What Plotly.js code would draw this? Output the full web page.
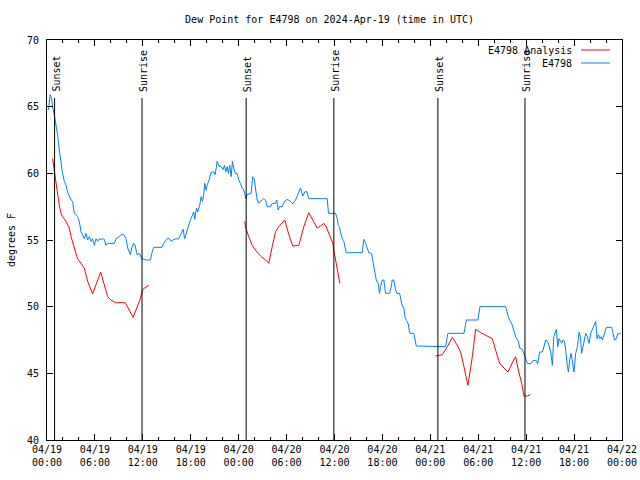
<!DOCTYPE html>
<html>
<head>
<meta charset="utf-8">
<script src="https://cdn.plot.ly/plotly-3.0.1.min.js"></script>
<style>html,body{margin:0;padding:0;background:#fff;}#chart{width:640px;height:480px;}</style>
</head>
<body>
<div id="chart"></div>
<script>
// Times are hours after 2024-04-19 00:00 UTC
const obsHours = [0.16,0.41,0.58,0.70,0.95,1.10,1.33,1.54,1.75,1.95,2.17,2.38,2.58,2.79,3.01,3.21,3.42,3.63,3.83,4.05,4.26,4.46,4.67,4.89,5.09,5.30,5.51,5.71,5.93,6.14,6.34,6.55,6.77,6.97,7.18,7.39,7.59,8.43,8.65,9.06,9.27,9.60,9.90,10.10,10.44,10.60,10.85,11.03,11.28,11.57,11.85,12.41,12.94,13.13,13.36,14.41,14.61,15.04,15.33,15.54,15.86,16.49,16.70,17.04,17.24,17.46,17.74,17.96,18.17,18.37,18.50,18.71,18.87,19.12,19.30,19.46,19.62,19.75,19.92,20.05,20.30,20.55,20.88,21.05,21.22,21.30,21.55,21.80,22.06,22.22,22.38,22.56,22.72,22.88,23.06,23.22,23.38,23.56,23.81,24.01,24.22,24.44,24.64,24.91,25.04,25.26,25.56,25.76,25.94,26.10,26.32,26.52,26.73,26.94,27.14,27.36,27.57,27.98,28.20,28.61,28.77,28.95,29.11,29.45,29.77,30.08,30.49,30.78,31.12,31.45,31.74,32.03,32.28,32.53,32.78,35.09,35.25,36.13,36.34,36.47,36.63,36.75,36.97,37.17,37.29,37.47,39.47,39.67,39.89,40.10,40.30,40.64,40.80,41.02,41.23,41.48,41.64,41.77,41.98,42.18,42.39,42.89,43.11,43.23,43.43,43.65,43.81,44.15,44.31,44.49,44.69,44.81,45.03,45.24,45.31,45.44,45.94,46.07,46.24,49.91,50.20,52.21,52.51,53.96,54.21,57.43,57.64,57.84,58.18,58.47,58.68,59.02,59.19,59.52,59.72,59.94,60.15,60.56,60.85,61.28,61.44,61.69,62.03,62.23,62.44,62.66,62.86,63.07,63.28,63.45,63.61,63.78,63.95,64.11,64.45,64.61,64.79,64.95,65.16,65.29,65.45,65.61,65.79,65.99,66.20,66.42,66.62,66.79,66.95,67.12,67.29,67.46,67.67,67.87,68.08,68.37,68.55,68.71,68.87,69.05,69.21,69.37,69.55,69.71,69.87,70.05,70.71,70.88,71.05,71.25,71.46,71.84];
const obsDew = [64.75,65.9,65.6,65.0,64.25,63.8,62.9,61.75,60.6,60.0,59.4,59.1,58.6,58.25,58.0,57.9,57.0,56.9,56.75,56.4,55.6,55.4,55.1,55.5,55.0,55.25,54.9,55.1,54.6,55.1,54.9,55.1,55.0,55.1,55.05,54.6,54.75,54.75,55.1,55.25,55.4,55.4,55.1,54.4,53.9,54.4,54.75,54.6,53.9,54.0,53.6,53.5,53.5,54.0,54.45,54.45,54.75,55.1,55.1,54.9,55.05,55.1,55.4,55.8,55.1,55.6,56.1,56.5,56.9,57.1,56.55,57.4,57.1,57.6,58.25,57.9,58.4,59.25,58.75,59.1,59.5,60.1,60.1,59.9,60.5,60.9,60.55,60.5,60.3,60.6,60.1,60.5,60.0,60.6,59.75,60.9,60.4,60.0,60.0,59.5,59.25,58.9,58.75,58.1,58.4,58.45,58.5,59.75,59.6,58.9,58.0,57.75,57.9,58.0,58.1,58.0,57.5,57.5,57.75,57.75,58.0,57.25,57.5,57.5,57.9,58.05,57.9,57.7,58.0,58.5,58.9,58.3,58.6,58.65,58.1,58.1,57.0,57.0,56.6,56.1,56.0,55.6,55.1,54.9,54.5,54.05,54.05,55.05,54.75,54.4,54.05,54.0,53.4,52.75,52.0,51.75,51.0,51.5,52.0,52.0,51.0,51.0,51.5,52.0,52.0,51.25,51.0,51.0,50.5,50.05,49.9,49.25,48.95,48.7,48.4,48.0,48.0,47.5,47.05,47.0,48.0,48.0,49.0,49.0,50.0,50.0,49.6,49.1,48.75,48.25,47.75,47.4,46.9,46.8,46.5,46.1,45.75,45.7,45.95,45.95,45.7,46.6,46.6,47.0,47.5,47.4,47.1,46.6,45.6,47.75,48.0,48.3,47.0,47.6,47.25,47.5,47.4,46.75,45.5,45.1,46.0,46.5,45.9,45.1,46.5,47.0,48.1,47.75,46.5,47.0,47.4,48.0,47.75,47.25,48.0,48.4,48.65,48.9,47.6,47.9,47.6,47.75,47.5,47.9,48.1,48.45,48.45,48.0,47.5,47.55,47.95,48.0];

// Analysis: three separate runs (null separates them)
const anaHours = [0.70,0.83,1.00,1.13,1.33,1.54,1.75,1.95,2.38,2.79,3.01,3.42,3.83,4.26,4.67,5.09,5.71,6.72,7.18,7.59,7.99,8.60,9.81,10.78,11.69,11.90,12.19,12.73,
  18.0,
  24.76,24.85,25.26,25.69,26.10,26.73,27.36,27.77,28.20,28.61,29.02,29.77,30.28,30.78,31.53,32.16,32.78,33.28,33.83,34.37,34.66,34.96,35.50,35.79,35.91,36.13,36.34,36.54,36.67,
  42.0,
  48.67,49.50,50.13,50.75,51.38,51.79,52.21,52.71,53.26,53.67,54.30,54.92,55.76,56.17,56.68,57.22,57.72,58.35,58.68,59.02,59.44,59.72,60.15,60.56];
const anaDew = [61.1,60.5,59.9,59.4,58.6,57.6,57.0,56.75,56.4,55.9,55.25,54.4,53.6,53.25,52.9,51.9,50.95,52.6,51.6,50.75,50.5,50.3,50.3,49.2,50.6,51.2,51.4,51.6,
  null,
  56.4,56.0,55.25,54.6,54.25,53.8,53.5,53.25,54.5,55.6,56.0,56.5,55.4,54.55,54.6,56.0,57.05,56.5,55.9,56.1,56.25,56.0,55.25,54.75,54.25,53.5,52.75,52.1,51.75,
  null,
  46.3,46.4,47.0,47.7,47.1,46.6,45.5,44.1,46.25,48.3,48.05,47.85,47.6,46.75,45.75,45.4,45.1,45.9,46.25,45.25,44.25,43.3,43.3,43.4];

const sunHours = [0.95, 11.90, 24.94, 35.92, 48.95, 59.85];
const sunLabels = ["Sunset", "Sunrise", "Sunset", "Sunrise", "Sunset", "Sunrise"];

const seriesNames = ["E4798 Analysis", "E4798"];
const seriesColors = ["#ff0000", "#0080ff"];

function toDate(h) {
  const d = new Date(Date.UTC(2024, 3, 19) + Math.round(h * 3600000));
  return d.toISOString().replace('T', ' ').slice(0, 19);
}

const font = {family: "DejaVu Sans Mono, Liberation Mono, monospace", size: 10, color: "#000"};

const traces = [
  {x: anaHours.map(toDate), y: anaDew, name: seriesNames[0], type: "scatter", mode: "lines",
   line: {color: seriesColors[0], width: 1}, connectgaps: false, showlegend: false},
  {x: obsHours.map(toDate), y: obsDew, name: seriesNames[1], type: "scatter", mode: "lines",
   line: {color: seriesColors[1], width: 1}, showlegend: false}
];

const shapes = sunHours.map(h => ({
  type: "line", xref: "x", yref: "paper", x0: toDate(h), x1: toDate(h), y0: 0, y1: 0.855,
  line: {color: "#000", width: 1}
}));
const annotations = sunHours.map((h, i) => ({
  x: toDate(h), y: 0.865, xref: "x", yref: "paper", text: sunLabels[i], textangle: -90,
  showarrow: false, xanchor: "center", yanchor: "bottom", xshift: 1, font: font
}));

// key (text on the left, sample line on the right)
const keyY = [0.975, 0.9425];
seriesNames.forEach((n, i) => {
  annotations.push({x: 0.9165, y: keyY[i], xref: "paper", yref: "paper", text: n, showarrow: false,
    xanchor: "right", yanchor: "middle", font: font});
  shapes.push({type: "line", xref: "paper", yref: "paper", x0: 0.9287, x1: 0.979, y0: keyY[i], y1: keyY[i],
    line: {color: seriesColors[i], width: 1}});
});

const layout = {
  width: 640, height: 480,
  margin: {l: 47, r: 18, t: 40, b: 40, pad: 0},
  paper_bgcolor: "#fff", plot_bgcolor: "#fff",
  font: font,
  showlegend: false,
  title: {text: "Dew Point for E4798 on 2024-Apr-19 (time in UTC)", font: font, x: 0.515, xanchor: "center", y: 0.96, yanchor: "middle"},
  xaxis: {
    type: "date", range: [toDate(0), toDate(72)],
    tick0: toDate(0), dtick: 6 * 3600000, tickformat: "%m/%d<br>%H:%M",
    ticks: "inside", ticklen: 6, tickcolor: "#000", tickwidth: 1,
    minor: {dtick: 2 * 3600000, ticks: "inside", ticklen: 3, tickcolor: "#000"},
    showline: true, linecolor: "#000", linewidth: 1, mirror: "allticks",
    showgrid: false, zeroline: false, tickfont: font
  },
  yaxis: {
    range: [40, 70], dtick: 5, tick0: 40,
    ticks: "inside", ticklen: 6, tickcolor: "#000", tickwidth: 1,
    ticklabelstandoff: 5,
    showline: true, linecolor: "#000", linewidth: 1, mirror: "allticks",
    showgrid: false, zeroline: false, tickfont: font,
    title: {text: "degrees F", font: font, standoff: 9}
  },
  shapes: shapes,
  annotations: annotations
};

Plotly.newPlot("chart", traces, layout, {displayModeBar: false, staticPlot: true});
</script>
</body>
</html>
